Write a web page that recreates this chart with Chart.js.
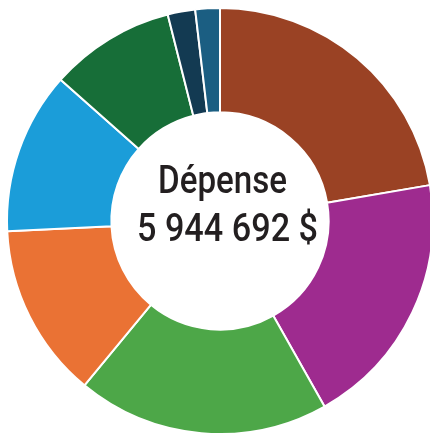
<!DOCTYPE html>
<html lang="fr">
<head>
<meta charset="utf-8">
<script src="https://cdn.jsdelivr.net/npm/chart.js@4"></script>
<style>
  html, body { margin: 0; padding: 0; background: #fff; overflow: hidden; }
  #boite { position: relative; width: 440px; height: 435px; }
</style>
</head>
<body>
<div id="boite"><canvas id="depenses"></canvas></div>
<script>
// postes de dépense, dans l'ordre horaire depuis midi
const postes = ['Poste 1', 'Poste 2', 'Poste 3', 'Poste 4', 'Poste 5', 'Poste 6', 'Poste 7', 'Poste 8'];
const montants = [1326000, 1161000, 1138000, 788000, 732000, 565000, 124000, 110692];
const couleurs = ['#9A4224', '#9E2B8F', '#4DA748', '#EA7234', '#1B9DD9', '#176E38', '#133A52', '#1B5E82'];
const titreCentre = 'Dépense';
const totalCentre = '5 944 692 $';

// texte au milieu de l'anneau (police étroite simulée par un écrasement horizontal)
const texteCentre = {
    id: 'texteCentre',
    afterDraw(chart) {
        const arc = chart.getDatasetMeta(0).data[0];
        if (!arc) return;
        const ctx = chart.ctx;
        ctx.save();
        ctx.fillStyle = '#231F20';
        ctx.textAlign = 'center';
        ctx.textBaseline = 'alphabetic';
        ctx.font = '500 39px Roboto, "Noto Sans", sans-serif';
        const echelle = 129 / ctx.measureText(titreCentre).width;

        ctx.save();
        ctx.translate(arc.x + 2.5, arc.y - 28);
        ctx.scale(echelle, 1);
        ctx.fillText(titreCentre, 0, 0);
        ctx.restore();

        const echelle2 = 181 / ctx.measureText(totalCentre).width;
        ctx.translate(arc.x + 7.5, arc.y + 20);
        ctx.scale(echelle2, 1);
        ctx.fillText(totalCentre, 0, 0);
        ctx.restore();
    }
};

const ctx = document.getElementById('depenses').getContext('2d');
new Chart(ctx, {
    type: 'doughnut',
    data: {
        labels: postes,
        datasets: [{
            data: montants,
            backgroundColor: couleurs,
            borderColor: '#ffffff',
            borderWidth: 2,
            hoverOffset: 0
        }]
    },
    options: {
        responsive: true,
        maintainAspectRatio: false,
        animation: false,
        cutout: '51%',
        layout: { padding: { left: 6, right: 6, top: 7, bottom: 0 } },
        plugins: {
            legend: { display: false },
            tooltip: { enabled: false }
        }
    },
    plugins: [texteCentre]
});
</script>
</body>
</html>
